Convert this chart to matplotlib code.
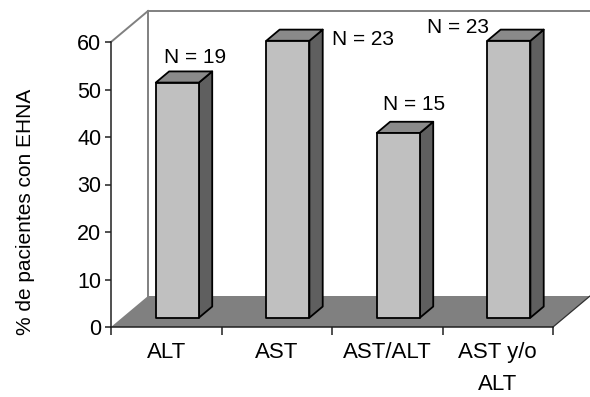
import matplotlib
matplotlib.use('Agg')
import matplotlib.pyplot as plt
from matplotlib.patches import Polygon
from matplotlib.lines import Line2D
from matplotlib.transforms import IdentityTransform
import numpy as np

# ---- data ----
categories = ['ALT', 'AST', 'AST/ALT', 'AST y/o\nALT']
values = [49.5, 58.3, 38.9, 58.3]
n_labels = ['N = 19', 'N = 23', 'N = 15', 'N = 23']
yticks = [0, 10, 20, 30, 40, 50, 60]
ylabel = '% de pacientes con EHNA'

# ---- layout / style ----
W, H, DPI = 590, 397, 100
DX, DY = 37, 31          # depth of the 3D box in pixels
F0, F1 = 0.30, 0.66      # bar depth range (fraction of box depth)
BW = 0.39                # bar width in category units
label_offsets = [(18, 25), (75, 1), (16, 28), (-51, 13)]  # pixels from bar front-top centre
FONT = 'Liberation Sans'
FS = 15

plt.rcParams['font.family'] = [FONT, 'DejaVu Sans']

fig = plt.figure(figsize=(W / DPI, H / DPI), dpi=DPI)
ax = fig.add_axes([111 / W, 1 - 327 / H, (553 - 111) / W, (327 - 42) / H])
ax.set_xlim(0, len(categories))
ax.set_ylim(0, 60)
ax.patch.set_visible(False)
for s in ['top', 'right']:
    ax.spines[s].set_visible(False)
for s in ['left', 'bottom']:
    ax.spines[s].set_color('#202020')
    ax.spines[s].set_linewidth(1.1)

ax.set_yticks(yticks)
ax.set_yticklabels([str(t) for t in yticks], fontsize=15.5)
ax.tick_params(axis='y', direction='out', length=4.5, width=1.1, color='#202020', pad=2.5)
ax.set_xticks(np.arange(len(categories) + 1))
ax.set_xticklabels([])
ax.tick_params(axis='x', which='major', direction='out', length=5.5, width=1.1, color='#202020')
ax.set_xticks(np.arange(len(categories)) + 0.5, minor=True)
ax.set_xticklabels(categories, minor=True, fontsize=16, linespacing=1.65)
ax.tick_params(axis='x', which='minor', length=0, pad=11)


def proj(x, y, d):
    px, py = ax.transData.transform((x, y))
    return (px + d * DX, py + d * DY)


def add_poly(pts, **kw):
    p = Polygon(pts, closed=True, transform=IdentityTransform(), clip_on=False, **kw)
    ax.add_patch(p)


def add_line(p0, p1, **kw):
    l = Line2D([p0[0], p1[0]], [p0[1], p1[1]], transform=IdentityTransform(), clip_on=False, **kw)
    ax.add_line(l)


n = len(categories)
ytop = yticks[-1]
wall_col = '#808080'
# back/left wall edges
add_line(proj(0, ytop, 0), proj(0, ytop, 1), color=wall_col, lw=1.4, zorder=0.5)
add_line(proj(0, 0, 1), proj(0, ytop, 1), color=wall_col, lw=1.4, zorder=0.5)
add_line(proj(0, ytop, 1), proj(n, ytop, 1), color=wall_col, lw=1.4, zorder=0.5)

# floor
add_poly([proj(0, 0, 0), proj(n, 0, 0), proj(n, 0, 1), proj(0, 0, 1)],
         facecolor='#808080', edgecolor='none', zorder=0.8)
add_line(proj(n, 0, 0), proj(n, 0, 1), color='#303030', lw=0.9, zorder=0.9)

# bars
for i, v in enumerate(values):
    x0, x1 = i + 0.5 - BW / 2, i + 0.5 + BW / 2
    kw = dict(edgecolor='black', linewidth=1.3, joinstyle='round', zorder=2)
    add_poly([proj(x1, 0, F0), proj(x1, 0, F1), proj(x1, v, F1), proj(x1, v, F0)],
             facecolor='#5f5f5f', **kw)
    add_poly([proj(x0, v, F0), proj(x1, v, F0), proj(x1, v, F1), proj(x0, v, F1)],
             facecolor='#8a8a8a', **kw)
    add_poly([proj(x0, 0, F0), proj(x1, 0, F0), proj(x1, v, F0), proj(x0, v, F0)],
             facecolor='#c0c0c0', **kw)
    cx, cy = proj(i + 0.5, v, F0)
    ox, oy = label_offsets[i]
    ax.text(cx + ox, cy + oy, n_labels[i], transform=IdentityTransform(),
            ha='center', va='center', fontsize=FS, zorder=3)

fig.text(26 / W, 1 - 212 / H, ylabel, rotation=90, ha='center', va='center', fontsize=FS)

fig.savefig('out.png', dpi=DPI, facecolor='white')
